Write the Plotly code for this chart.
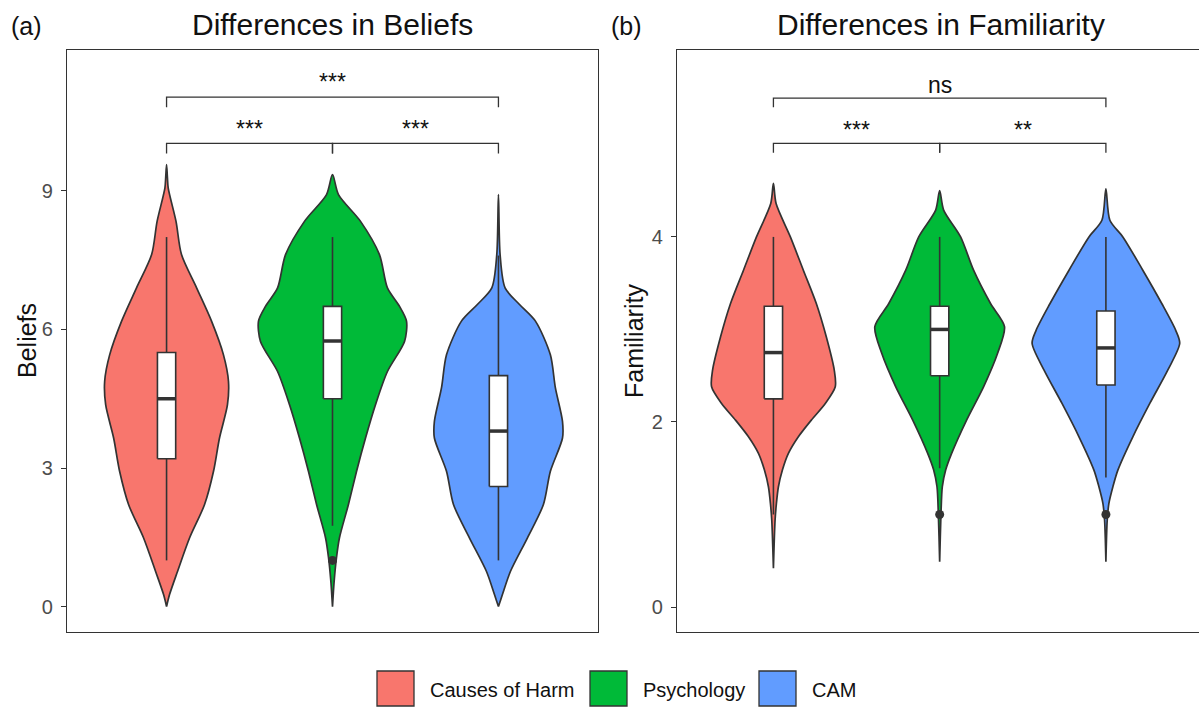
import plotly.graph_objects as go

# ---------------- data ----------------
categories = ["Causes of Harm", "Psychology", "CAM"]
colors = ["#F8766D", "#00BA38", "#619CFF"]

# Violin outlines: y levels and half-widths (x-axis units)
bel_harm_y = [9.57, 9.30, 9.06, 8.34, 7.62, 6.90, 6.18, 5.45, 4.88, 4.37, 3.65, 2.93, 2.21, 1.49, 0.76, 0.26, 0.0]
bel_harm_w = [0.0, 0.005, 0.010, 0.057, 0.090, 0.181, 0.271, 0.343, 0.373, 0.367, 0.319, 0.283, 0.229, 0.139, 0.066, 0.018, 0.0]
bel_psy_y = [9.35, 8.92, 8.34, 7.62, 6.90, 6.50, 6.18, 5.74, 5.09, 4.37, 3.65, 2.93, 2.21, 1.49, 1.06, 0.55, 0.0]
bel_psy_w = [0.0, 0.036, 0.169, 0.283, 0.331, 0.404, 0.446, 0.434, 0.331, 0.259, 0.199, 0.145, 0.096, 0.042, 0.024, 0.010, 0.0]
bel_cam_y = [8.92, 7.62, 6.90, 6.54, 6.18, 5.45, 4.74, 4.01, 3.65, 2.93, 2.21, 1.49, 0.76, 0.26, 0.0]
bel_cam_w = [0.0, 0.010, 0.040, 0.127, 0.223, 0.313, 0.343, 0.386, 0.386, 0.313, 0.271, 0.175, 0.072, 0.024, 0.0]

fam_harm_y = [4.58, 4.36, 4.00, 3.64, 3.28, 2.92, 2.56, 2.38, 2.20, 2.02, 1.84, 1.66, 1.48, 1.30, 1.12, 0.94, 0.42]
fam_harm_w = [0.0, 0.016, 0.102, 0.180, 0.258, 0.318, 0.366, 0.372, 0.312, 0.228, 0.150, 0.090, 0.054, 0.030, 0.018, 0.010, 0.0]
fam_psy_y = [4.50, 4.29, 4.00, 3.64, 3.28, 3.03, 2.74, 2.38, 2.02, 1.66, 1.48, 1.30, 1.01, 0.49]
fam_psy_w = [0.0, 0.024, 0.126, 0.204, 0.306, 0.390, 0.348, 0.264, 0.162, 0.072, 0.036, 0.016, 0.008, 0.0]
fam_cam_y = [4.52, 4.18, 4.00, 3.64, 3.28, 2.99, 2.85, 2.56, 2.20, 1.84, 1.48, 1.30, 1.12, 0.94, 0.49]
fam_cam_w = [0.0, 0.024, 0.102, 0.222, 0.336, 0.420, 0.444, 0.372, 0.264, 0.162, 0.072, 0.042, 0.018, 0.008, 0.0]

# Box-plot statistics: lower whisker, Q1, median, Q3, upper whisker
bel_lower = [1.0, 1.75, 1.0]
bel_q1 = [3.2, 4.5, 2.6]
bel_median = [4.5, 5.75, 3.8]
bel_q3 = [5.5, 6.5, 5.0]
bel_upper = [8.0, 8.0, 7.6]
bel_outliers = [[], [1.0], []]

fam_lower = [1.0, 1.5, 1.4]
fam_q1 = [2.25, 2.5, 2.4]
fam_median = [2.75, 3.0, 2.8]
fam_q3 = [3.25, 3.25, 3.2]
fam_upper = [4.0, 4.0, 4.0]
fam_outliers = [[], [1.0], [1.0]]

# Pairwise comparisons: group a, group b, label
comparisons = [("Causes of Harm", "Psychology"), ("Psychology", "CAM"), ("Causes of Harm", "CAM")]
bel_labels = ["***", "***", "***"]
fam_labels = ["***", "**", "ns"]

# ---------------- styling ----------------
W, H = 1199, 708
FONT = "Liberation Sans, Arial, sans-serif"
DARK = "#333333"
BOX_W = 0.11

def px(x):
    return x / W

def py(y):
    return 1 - y / H

fig = go.Figure()

panels = [
    dict(xa="x", ya="y",
         vy=[bel_harm_y, bel_psy_y, bel_cam_y], vw=[bel_harm_w, bel_psy_w, bel_cam_w],
         lo=bel_lower, q1=bel_q1, me=bel_median, q3=bel_q3, up=bel_upper, out=bel_outliers,
         labels=bel_labels, bar_y=[10.03, 10.03, 11.03], tip=0.22, lab_y=[10.33, 10.33, 11.35]),
    dict(xa="x2", ya="y2",
         vy=[fam_harm_y, fam_psy_y, fam_cam_y], vw=[fam_harm_w, fam_psy_w, fam_cam_w],
         lo=fam_lower, q1=fam_q1, me=fam_median, q3=fam_q3, up=fam_upper, out=fam_outliers,
         labels=fam_labels, bar_y=[5.01, 5.01, 5.50], tip=0.10, lab_y=[5.16, 5.16, 5.64]),
]

for p in panels:
    kw = dict(xaxis=p["xa"], yaxis=p["ya"], showlegend=False, hoverinfo="skip")
    # violins
    for i, cat in enumerate(categories):
        pos = i + 1
        ys = p["vy"][i]
        ws = p["vw"][i]
        xs = [pos + w for w in ws] + [pos - w for w in reversed(ws)]
        yy = list(ys) + list(reversed(ys))
        fig.add_trace(go.Scatter(
            x=xs, y=yy, mode="lines", fill="toself", fillcolor=colors[i], name=cat,
            line=dict(color=DARK, width=1.7, shape="spline", smoothing=0.8), **kw))
    # box plots (whiskers, box, median, outliers)
    for i, cat in enumerate(categories):
        pos = i + 1
        lo, q1, me, q3, up = p["lo"][i], p["q1"][i], p["me"][i], p["q3"][i], p["up"][i]
        fig.add_trace(go.Scatter(x=[pos, pos, None, pos, pos], y=[lo, q1, None, q3, up],
                                 mode="lines", line=dict(color=DARK, width=1.6), **kw))
        l, r = pos - BOX_W / 2, pos + BOX_W / 2
        fig.add_trace(go.Scatter(x=[l, r, r, l, l], y=[q1, q1, q3, q3, q1],
                                 mode="lines", fill="toself", fillcolor="white",
                                 line=dict(color=DARK, width=1.6), **kw))
        fig.add_trace(go.Scatter(x=[l, r], y=[me, me], mode="lines",
                                 line=dict(color=DARK, width=3.5), **kw))
        if p["out"][i]:
            fig.add_trace(go.Scatter(
                x=[pos] * len(p["out"][i]), y=p["out"][i], mode="markers",
                marker=dict(color=DARK, size=9), **kw))
    # significance brackets
    for (a, b), lab, yb, ly in zip(comparisons, p["labels"], p["bar_y"], p["lab_y"]):
        xa = categories.index(a) + 1
        xb = categories.index(b) + 1
        fig.add_trace(go.Scatter(
            x=[xa, xa, xb, xb], y=[yb - p["tip"], yb, yb, yb - p["tip"]],
            mode="lines", line=dict(color=DARK, width=1.3), **kw))
        fig.add_annotation(x=(xa + xb) / 2, y=ly, xref=p["xa"], yref=p["ya"],
                           text=lab, showarrow=False, yanchor="middle",
                           font=dict(family=FONT, size=23, color="#111111"))

ydom = [py(632), py(50)]
axis_common = dict(showgrid=False, zeroline=False, showline=True, linecolor=DARK, linewidth=1.2)
fig.update_layout(
    width=W, height=H, margin=dict(l=0, r=0, t=0, b=0),
    paper_bgcolor="white", plot_bgcolor="white",
    font=dict(family=FONT),
    xaxis=dict(domain=[px(67), px(598)], range=[0.4, 3.6], anchor="y",
               showticklabels=False, ticks="", mirror=True, **axis_common),
    yaxis=dict(domain=ydom, range=[-0.55, 12.05], anchor="x", tickvals=[0, 3, 6, 9],
               ticks="outside", ticklen=5, tickcolor=DARK, tickwidth=1.2, mirror=True,
               ticklabelstandoff=4,
               tickfont=dict(family=FONT, size=20, color="#4D4D4D"), **axis_common),
    xaxis2=dict(domain=[px(677), 1.0], range=[0.42, 3.56], anchor="y2",
                showticklabels=False, ticks="", mirror=True, **axis_common),
    yaxis2=dict(domain=ydom, range=[-0.27, 6.02], anchor="x2", tickvals=[0, 2, 4],
                ticks="outside", ticklen=5, tickcolor=DARK, tickwidth=1.2, mirror=False,
                ticklabelstandoff=4,
                tickfont=dict(family=FONT, size=20, color="#4D4D4D"), **axis_common),
)

# titles, panel tags and axis titles
texts = [
    ("Differences in Beliefs", 332.5, 25, 30, "center", 0),
    ("Differences in Familiarity", 941, 25, 30, "center", 0),
    ("(a)", 9, 26, 25, "left", 0),
    ("(b)", 609, 26, 25, "left", 0),
    ("Beliefs", 27, 341, 25, "center", -90),
    ("Familiarity", 634, 341, 25, "center", -90),
]
for t, x, y, s, anc, ang in texts:
    fig.add_annotation(x=px(x), y=py(y), xref="paper", yref="paper", text=t,
                       showarrow=False, xanchor=anc, yanchor="middle", textangle=ang,
                       font=dict(family=FONT, size=s, color="#111111"))

# legend drawn manually
legend_box_x = [377, 590, 759]
legend_text_x = [428, 641, 810]
for i, cat in enumerate(categories):
    x0 = legend_box_x[i]
    fig.add_shape(type="rect", xref="paper", yref="paper",
                  x0=px(x0), x1=px(x0 + 37), y0=py(706), y1=py(671),
                  fillcolor=colors[i], line=dict(color=DARK, width=1.3))
    fig.add_annotation(x=px(legend_text_x[i]), y=py(690), xref="paper", yref="paper",
                       text=cat, showarrow=False, xanchor="left", yanchor="middle",
                       font=dict(family=FONT, size=20, color="#111111"))

fig.write_html("out.html", config={"displayModeBar": False},
               post_script="document.body.style.margin='0';document.body.style.overflow='hidden';")
